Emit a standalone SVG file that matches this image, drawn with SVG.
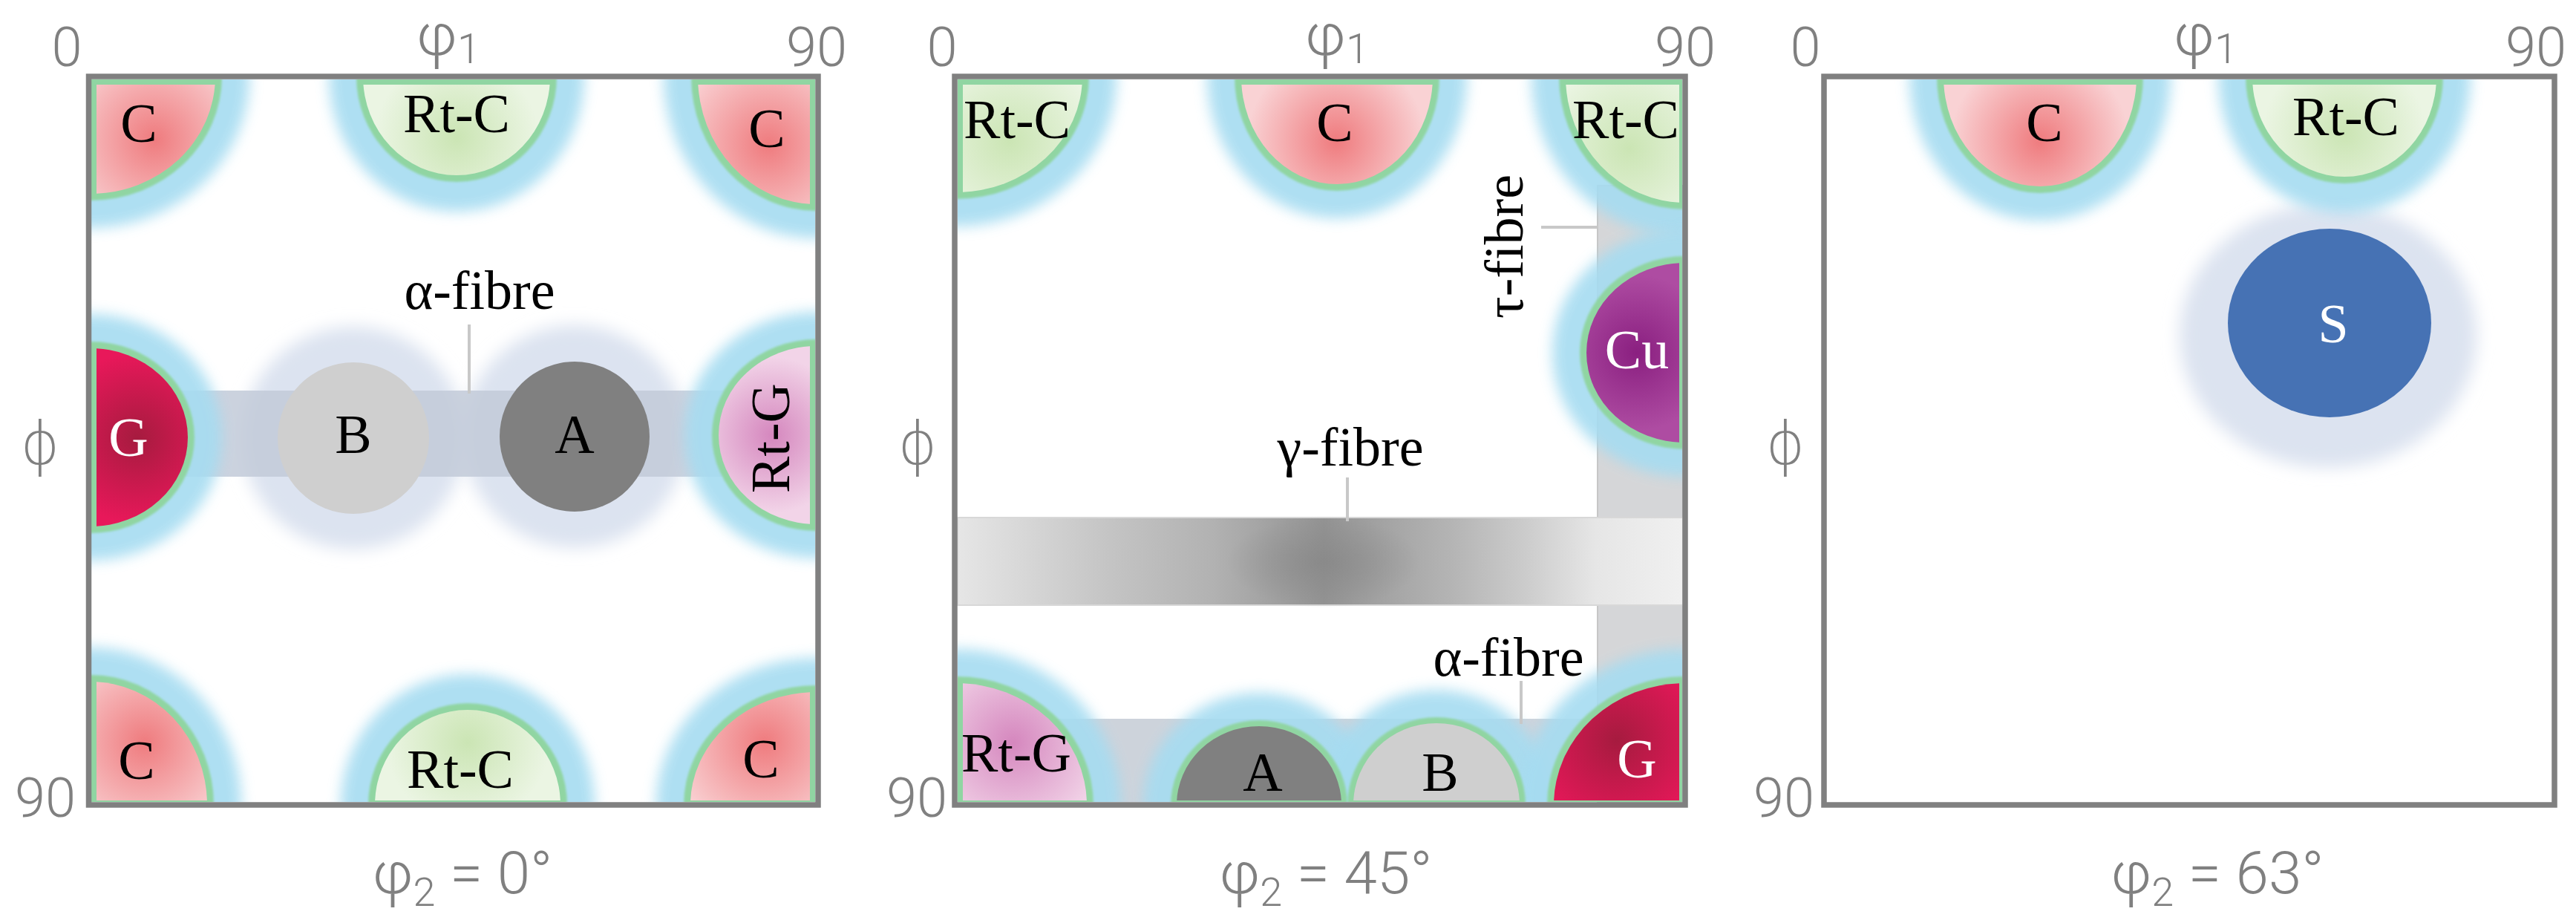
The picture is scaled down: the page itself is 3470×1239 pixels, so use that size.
<svg xmlns="http://www.w3.org/2000/svg" xmlns:xlink="http://www.w3.org/1999/xlink" width="3470" height="1239" viewBox="0 0 3470 1239">
<style>
.ax{font-family:Roboto,"DejaVu Sans",sans-serif;font-weight:300;fill:#808080}
.t0{font-size:74px;text-anchor:middle}
.phi{font-family:"DejaVu Sans",sans-serif;font-size:80px;text-anchor:middle;fill:#808080}
.lb{font-family:"Liberation Serif","Times New Roman",serif;font-size:74px;fill:#000;text-anchor:middle}
.lw{fill:#fff}
.frame{fill:none;stroke:#808080;stroke-width:7.5}
.blue{fill:#a6dcf1;opacity:0.9;filter:url(#b9)}
.green{fill:#90d5a2;filter:url(#b2)}
.halo{fill:#dce3f0;filter:url(#b10)}
.lead{stroke:#c8c8c8;stroke-width:4;fill:none}
</style>
<defs>
<filter id="b9" x="-30%" y="-30%" width="160%" height="160%"><feGaussianBlur stdDeviation="9"/></filter>
<filter id="b2" x="-10%" y="-10%" width="120%" height="120%"><feGaussianBlur stdDeviation="1.6"/></filter>
<filter id="b10" x="-30%" y="-30%" width="160%" height="160%"><feGaussianBlur stdDeviation="11"/></filter>
<radialGradient id="gR"><stop offset="0" stop-color="#ef7b7e"/><stop offset="1" stop-color="#f9d2d4"/></radialGradient>
<radialGradient id="gG"><stop offset="0" stop-color="#cbe5b4"/><stop offset="1" stop-color="#ebf5e3"/></radialGradient>
<radialGradient id="gC"><stop offset="0" stop-color="#a61b3f"/><stop offset="1" stop-color="#e8185a"/></radialGradient>
<radialGradient id="gP"><stop offset="0" stop-color="#d587be"/><stop offset="1" stop-color="#f2d4e8"/></radialGradient>
<radialGradient id="gU"><stop offset="0" stop-color="#8a1f80"/><stop offset="1" stop-color="#ae4ca2"/></radialGradient>
<radialGradient id="r1" href="#gR" xlink:href="#gR" gradientUnits="userSpaceOnUse" cx="208" cy="188" r="130"/>
<radialGradient id="g1" href="#gG" xlink:href="#gG" gradientUnits="userSpaceOnUse" cx="615" cy="185" r="110"/>
<radialGradient id="r2" href="#gR" xlink:href="#gR" gradientUnits="userSpaceOnUse" cx="1035" cy="195" r="130"/>
<radialGradient id="c1" href="#gC" xlink:href="#gC" gradientUnits="userSpaceOnUse" cx="185" cy="590" r="115"/>
<radialGradient id="p1" href="#gP" xlink:href="#gP" gradientUnits="userSpaceOnUse" cx="1040" cy="586" r="105"/>
<radialGradient id="r3" href="#gR" xlink:href="#gR" gradientUnits="userSpaceOnUse" cx="195" cy="1000" r="130"/>
<radialGradient id="g2" href="#gG" xlink:href="#gG" gradientUnits="userSpaceOnUse" cx="630" cy="1000" r="110"/>
<radialGradient id="r4" href="#gR" xlink:href="#gR" gradientUnits="userSpaceOnUse" cx="1030" cy="1000" r="130"/>
<radialGradient id="g3" href="#gG" xlink:href="#gG" gradientUnits="userSpaceOnUse" cx="1360" cy="190" r="120"/>
<radialGradient id="r5" href="#gR" xlink:href="#gR" gradientUnits="userSpaceOnUse" cx="1800" cy="190" r="120"/>
<radialGradient id="g4" href="#gG" xlink:href="#gG" gradientUnits="userSpaceOnUse" cx="2195" cy="200" r="120"/>
<radialGradient id="u1" href="#gU" xlink:href="#gU" gradientUnits="userSpaceOnUse" cx="2205" cy="475" r="105"/>
<radialGradient id="p2" href="#gP" xlink:href="#gP" gradientUnits="userSpaceOnUse" cx="1365" cy="1000" r="125"/>
<radialGradient id="c2" href="#gC" xlink:href="#gC" gradientUnits="userSpaceOnUse" cx="2178" cy="997" r="125"/>
<radialGradient id="r6" href="#gR" xlink:href="#gR" gradientUnits="userSpaceOnUse" cx="2748" cy="190" r="120"/>
<radialGradient id="g5" href="#gG" xlink:href="#gG" gradientUnits="userSpaceOnUse" cx="3158" cy="180" r="110"/>
<radialGradient id="hK"><stop offset="0" stop-color="#868686" stop-opacity="0.7"/><stop offset="1" stop-color="#868686" stop-opacity="0"/></radialGradient>
<linearGradient id="gam" gradientUnits="userSpaceOnUse" x1="1290" y1="0" x2="2267" y2="0">
<stop offset="0" stop-color="#e6e6e6"/><stop offset="0.11" stop-color="#d4d4d4"/><stop offset="0.21" stop-color="#c4c4c4"/>
<stop offset="0.35" stop-color="#b2b2b2"/><stop offset="0.42" stop-color="#a4a4a4"/><stop offset="0.505" stop-color="#939393"/>
<stop offset="0.58" stop-color="#a2a2a2"/><stop offset="0.68" stop-color="#b4b4b4"/><stop offset="0.78" stop-color="#cbcbcb"/>
<stop offset="0.88" stop-color="#e6e6e6"/><stop offset="1" stop-color="#f0f0f0"/></linearGradient>
<clipPath id="in1"><rect x="123" y="107" width="975" height="973"/></clipPath>
<clipPath id="co1"><rect x="130" y="114" width="961" height="964"/></clipPath>
<clipPath id="in2"><rect x="1290" y="107" width="976" height="973"/></clipPath>
<clipPath id="co2"><rect x="1297" y="114" width="965" height="964"/></clipPath>
<clipPath id="in3"><rect x="2461" y="107" width="976" height="973"/></clipPath>
<clipPath id="co3"><rect x="2465" y="114" width="968" height="964"/></clipPath>
</defs>
<rect width="3470" height="1239" fill="#fff"/>

<!-- ============ PANEL 1 ============ -->
<g id="panel1">
<g id="p1-bg">
<g clip-path="url(#in1)">
<circle class="halo" cx="476" cy="590" r="150"/>
<circle class="halo" cx="774" cy="588" r="150"/>
<rect x="122" y="526" width="978" height="116" fill="#c2cad8" opacity="0.85"/>
<ellipse class="blue" cx="122" cy="103" rx="214" ry="204"/>
<ellipse class="blue" cx="615" cy="103" rx="172" ry="182"/>
<ellipse class="blue" cx="1100" cy="103" rx="206" ry="218"/>
<ellipse class="blue" cx="122" cy="589" rx="177" ry="166"/>
<ellipse class="blue" cx="1100" cy="586" rx="178" ry="166"/>
<ellipse class="blue" cx="122" cy="1084" rx="203" ry="212"/>
<ellipse class="blue" cx="630" cy="1084" rx="171" ry="176"/>
<ellipse class="blue" cx="1100" cy="1084" rx="216" ry="198"/>
</g>
<g clip-path="url(#in1)">
<ellipse class="green" cx="122" cy="103" rx="177" ry="167"/>
<ellipse class="green" cx="615" cy="103" rx="135" ry="142"/>
<ellipse class="green" cx="1100" cy="103" rx="169" ry="181"/>
<ellipse class="green" cx="122" cy="589" rx="140" ry="129"/>
<ellipse class="green" cx="1100" cy="586" rx="141" ry="129"/>
<ellipse class="green" cx="122" cy="1084" rx="166" ry="175"/>
<ellipse class="green" cx="630" cy="1084" rx="134" ry="137"/>
<ellipse class="green" cx="1100" cy="1084" rx="179" ry="161"/>
</g>
</g>
<g id="p1-C-tl" clip-path="url(#co1)">
<ellipse fill="url(#r1)" cx="122" cy="103" rx="168" ry="158"/>
<text class="lb" x="187" y="191">C</text>
</g>
<g id="p1-RtC-top" clip-path="url(#co1)">
<ellipse fill="url(#g1)" cx="615" cy="103" rx="126" ry="133"/>
<text class="lb" x="615" y="178">Rt-C</text>
</g>
<g id="p1-C-tr" clip-path="url(#co1)">
<ellipse fill="url(#r2)" cx="1100" cy="103" rx="160" ry="172"/>
<text class="lb" x="1033" y="198">C</text>
</g>
<g id="p1-G" clip-path="url(#co1)">
<ellipse fill="url(#c1)" cx="122" cy="589" rx="131" ry="120"/>
<text class="lb lw" x="173" y="614">G</text>
</g>
<g id="p1-B">
<circle cx="476" cy="590" r="102" fill="#cfcfcf"/>
<text class="lb" x="476" y="610">B</text>
</g>
<g id="p1-A">
<circle cx="774" cy="588" r="101" fill="#808080"/>
<text class="lb" x="774" y="610">A</text>
</g>
<g id="p1-RtG" clip-path="url(#co1)">
<ellipse fill="url(#p1)" cx="1100" cy="586" rx="132" ry="120"/>
<text class="lb" x="1063" y="590" transform="rotate(-90 1063 590)">Rt-G</text>
</g>
<g id="p1-C-bl" clip-path="url(#co1)">
<ellipse fill="url(#r3)" cx="122" cy="1084" rx="157" ry="166"/>
<text class="lb" x="184" y="1049">C</text>
</g>
<g id="p1-RtC-bot" clip-path="url(#co1)">
<ellipse fill="url(#g2)" cx="630" cy="1084" rx="125" ry="128"/>
<text class="lb" x="620" y="1061">Rt-C</text>
</g>
<g id="p1-C-br" clip-path="url(#co1)">
<ellipse fill="url(#r4)" cx="1100" cy="1084" rx="170" ry="152"/>
<text class="lb" x="1025" y="1047">C</text>
</g>
<g id="p1-alpha-label">
<text class="lb" x="646" y="416">α-fibre</text>
</g>
<rect class="frame" x="119.5" y="103" width="982.5" height="981"/>
<g id="p1-axes" class="ax">
<text class="t0" x="90" y="89">0</text>
<text class="t0" x="1100" y="89">90</text>
<text x="604" y="74" font-size="80" text-anchor="middle">φ<tspan font-size="56" dy="11">1</tspan></text>
<text class="phi" x="54" y="625">ϕ</text>
<text class="t0" x="61" y="1100">90</text>
<text x="623" y="1203" font-size="80" text-anchor="middle">φ<tspan font-size="54" dy="17">2</tspan><tspan dy="-17"> = 0°</tspan></text>
</g>
</g>

<!-- ============ PANEL 2 ============ -->
<g id="panel2">
<g id="p2-bands">
<rect x="2152" y="250" width="115" height="830" fill="#d5d6d8" stroke="#c6c6c6" stroke-width="2"/>
<rect x="1294" y="968" width="858" height="112" fill="#cdd3db"/>
</g>
<g id="p2-bg">
<g clip-path="url(#in2)">
<ellipse class="blue" cx="1288" cy="103" rx="216" ry="202"/>
<ellipse class="blue" cx="1801" cy="103" rx="175" ry="191"/>
<ellipse class="blue" cx="2270" cy="103" rx="207" ry="216"/>
<ellipse class="blue" cx="2270" cy="475" rx="179" ry="167"/>
<ellipse class="blue" cx="1288" cy="1084" rx="222" ry="210"/>
<ellipse class="blue" cx="1696" cy="1084" rx="156" ry="151"/>
<ellipse class="blue" cx="1935" cy="1084" rx="157" ry="155"/>
<ellipse class="blue" cx="2270" cy="1084" rx="223" ry="210"/>
</g>
<g clip-path="url(#in2)">
<ellipse class="green" cx="1288" cy="103" rx="179" ry="165"/>
<ellipse class="green" cx="1801" cy="103" rx="138" ry="154"/>
<ellipse class="green" cx="2270" cy="103" rx="170" ry="179"/>
<ellipse class="green" cx="2270" cy="475" rx="142" ry="130"/>
<ellipse class="green" cx="1288" cy="1084" rx="185" ry="173"/>
<ellipse class="green" cx="1696" cy="1084" rx="119" ry="114"/>
<ellipse class="green" cx="1935" cy="1084" rx="120" ry="118"/>
<ellipse class="green" cx="2270" cy="1084" rx="186" ry="173"/>
</g>
</g>
<g id="p2-gamma-band">
<rect x="1290" y="697" width="977" height="118" fill="url(#gam)" stroke="#d8d8d8" stroke-width="2"/>
<ellipse cx="1783" cy="757" rx="130" ry="62" fill="url(#hK)"/>
</g>
<g id="p2-RtC-tl" clip-path="url(#co2)">
<ellipse fill="url(#g3)" cx="1288" cy="103" rx="170" ry="156"/>
<text class="lb" x="1370" y="186">Rt-C</text>
</g>
<g id="p2-C" clip-path="url(#co2)">
<ellipse fill="url(#r5)" cx="1801" cy="103" rx="129" ry="145"/>
<text class="lb" x="1798" y="190">C</text>
</g>
<g id="p2-RtC-tr" clip-path="url(#co2)">
<ellipse fill="url(#g4)" cx="2270" cy="103" rx="161" ry="170"/>
<text class="lb" x="2190" y="186">Rt-C</text>
</g>
<g id="p2-Cu" clip-path="url(#co2)">
<ellipse fill="url(#u1)" cx="2270" cy="475" rx="133" ry="121"/>
<text class="lb lw" x="2205" y="496">Cu</text>
</g>
<g id="p2-RtG" clip-path="url(#co2)">
<ellipse fill="url(#p2)" cx="1288" cy="1084" rx="176" ry="164"/>
<text class="lb" x="1369" y="1039">Rt-G</text>
</g>
<g id="p2-A" clip-path="url(#co2)">
<ellipse cx="1696" cy="1084" rx="111" ry="106" fill="#808080"/>
<text class="lb" x="1701" y="1065">A</text>
</g>
<g id="p2-B" clip-path="url(#co2)">
<ellipse cx="1935" cy="1084" rx="112" ry="110" fill="#cfcfcf"/>
<text class="lb" x="1940" y="1065">B</text>
</g>
<g id="p2-G" clip-path="url(#co2)">
<ellipse fill="url(#c2)" cx="2270" cy="1084" rx="177" ry="164"/>
<text class="lb lw" x="2205" y="1047">G</text>
</g>
<g id="p2-labels">
<text class="lb" x="2051" y="332" transform="rotate(-90 2051 332)">τ-fibre</text>
<text class="lb" x="1819" y="627">γ-fibre</text>
<text class="lb" x="2032" y="910">α-fibre</text>
</g>
<rect class="frame" x="1286" y="103" width="984" height="981"/>
<g id="p2-axes" class="ax">
<text class="t0" x="1269" y="89">0</text>
<text class="t0" x="2270" y="89">90</text>
<text x="1801" y="74" font-size="80" text-anchor="middle">φ<tspan font-size="56" dy="11">1</tspan></text>
<text class="phi" x="1236" y="625">ϕ</text>
<text class="t0" x="1235" y="1100">90</text>
<text x="1786" y="1203" font-size="80" text-anchor="middle">φ<tspan font-size="54" dy="17">2</tspan><tspan dy="-17"> = 45°</tspan></text>
</g>
</g>

<!-- ============ PANEL 3 ============ -->
<g id="panel3">
<g id="p3-bg">
<ellipse class="halo" cx="3136" cy="452" rx="200" ry="178" clip-path="url(#in3)"/>
<g clip-path="url(#in3)">
<ellipse class="blue" cx="2748" cy="103" rx="176" ry="194"/>
<ellipse class="blue" cx="3158" cy="103" rx="170" ry="184"/>
</g>
<g clip-path="url(#in3)">
<ellipse class="green" cx="2748" cy="103" rx="139" ry="157"/>
<ellipse class="green" cx="3158" cy="103" rx="133" ry="144"/>
</g>
</g>
<g id="p3-C" clip-path="url(#co3)">
<ellipse fill="url(#r6)" cx="2748" cy="103" rx="130" ry="148"/>
<text class="lb" x="2754" y="190">C</text>
</g>
<g id="p3-RtC" clip-path="url(#co3)">
<ellipse fill="url(#g5)" cx="3158" cy="103" rx="124" ry="135"/>
<text class="lb" x="3160" y="182">Rt-C</text>
</g>
<g id="p3-S">
<ellipse cx="3138" cy="435" rx="137" ry="127" fill="#4672b4"/>
<text class="lb lw" x="3143" y="461">S</text>
</g>
<rect class="frame" x="2457" y="103" width="984" height="981"/>
<g id="p3-axes" class="ax">
<text class="t0" x="2432" y="89">0</text>
<text class="t0" x="3416" y="89">90</text>
<text x="2971" y="74" font-size="80" text-anchor="middle">φ<tspan font-size="56" dy="11">1</tspan></text>
<text class="phi" x="2405" y="625">ϕ</text>
<text class="t0" x="2403" y="1100">90</text>
<text x="2987" y="1203" font-size="80" text-anchor="middle">φ<tspan font-size="54" dy="17">2</tspan><tspan dy="-17"> = 63°</tspan></text>
</g>
</g>

<g id="connectors">
<line class="lead" x1="632" y1="437" x2="632" y2="530"/>
<line class="lead" x1="2076" y1="306" x2="2153" y2="306"/>
<line class="lead" x1="1815" y1="643" x2="1815" y2="702"/>
<line class="lead" x1="2049" y1="917" x2="2049" y2="975"/>
</g>
</svg>
